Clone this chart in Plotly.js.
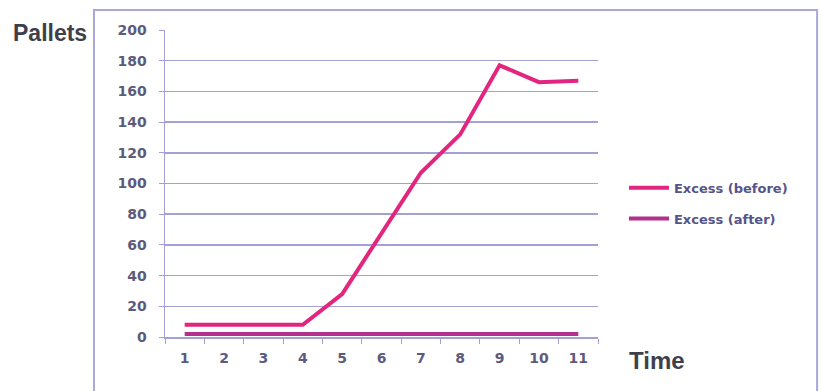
<!DOCTYPE html>
<html>
<head>
<meta charset="utf-8">
<script src="https://cdn.plot.ly/plotly-3.0.1.min.js"></script>
<style>
html,body{margin:0;padding:0;background:#fff;}
#chart{width:822px;height:391px;}
</style>
</head>
<body>
<div id="chart"></div>
<script>
const timeLabels = ['1','2','3','4','5','6','7','8','9','10','11'];
const excessBefore = [8, 8, 8, 8, 28, 67, 107, 132, 177, 166, 167];
const excessAfter = [2, 2, 2, 2, 2, 2, 2, 2, 2, 2, 2];
const seriesNames = ['Excess (before)', 'Excess (after)'];
const yTitle = 'Pallets';
const xTitle = 'Time';

const grid = '#a3a0d8';
const tickFont = {family: 'DejaVu Sans, Verdana, sans-serif', size: 14, color: '#5c5b7e', weight: 'bold'};

const traces = [
  {x: timeLabels, y: excessBefore, name: seriesNames[0], type: 'scatter', mode: 'lines',
   line: {color: '#e2257e', width: 4}, legendgroup: 'a'},
  {x: timeLabels, y: excessAfter, name: seriesNames[1], type: 'scatter', mode: 'lines',
   line: {color: '#b3308e', width: 4}, legendgroup: 'b'}
];

const layout = {
  width: 822, height: 391,
  margin: {l: 165, r: 224, t: 30, b: 54},
  paper_bgcolor: '#ffffff', plot_bgcolor: '#ffffff',
  showlegend: true,
  legend: {x: 1.06, y: 0.535, xanchor: 'left', yanchor: 'top',
    font: {family: 'DejaVu Sans, Verdana, sans-serif', size: 13, color: '#55548a', weight: 'bold'},
    tracegroupgap: 11, bgcolor: 'rgba(0,0,0,0)', itemwidth: 40},
  xaxis: {type: 'category', range: [-0.5, 10.5], tickson: 'boundaries', ticks: 'outside', ticklen: 5,
    tickcolor: grid, showline: true, linecolor: grid, linewidth: 1.5, showgrid: false,
    tickfont: tickFont, ticklabelstandoff: 8, fixedrange: true},
  yaxis: {range: [0, 200], dtick: 20, ticks: 'outside', ticklen: 5, tickcolor: grid,
    showline: true, linecolor: grid, linewidth: 1.5, showgrid: true, gridcolor: grid,
    gridwidth: 1.5, zeroline: false, tickfont: tickFont, ticklabelstandoff: 9, fixedrange: true},
  annotations: [
    {text: yTitle, xref: 'paper', yref: 'paper', x: -0.356, y: 0.99, xanchor: 'left', yanchor: 'middle',
     showarrow: false, font: {family: 'Liberation Sans, Arial, sans-serif', size: 23, color: '#3f3f4a', weight: 'bold'}},
    {text: xTitle, xref: 'paper', yref: 'paper', x: 1.066, y: -0.075, xanchor: 'left', yanchor: 'middle',
     showarrow: false, font: {family: 'Liberation Sans, Arial, sans-serif', size: 24, color: '#3f3f4a', weight: 'bold'}}
  ],
  shapes: [
    {type: 'rect', xref: 'paper', yref: 'paper', x0: -0.164, x1: 1.506, y0: -0.2, y1: 1.065,
     line: {color: '#aaa8da', width: 2}, fillcolor: 'rgba(0,0,0,0)', layer: 'below'}
  ]
};

Plotly.newPlot('chart', traces, layout, {displayModeBar: false, staticPlot: true});
</script>
</body>
</html>
